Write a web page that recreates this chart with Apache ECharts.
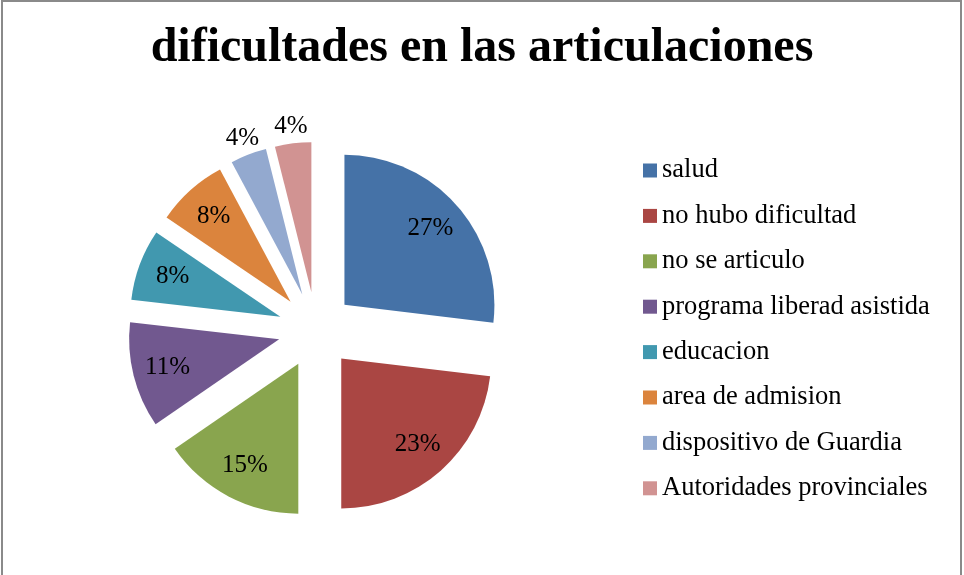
<!DOCTYPE html>
<html>
<head>
<meta charset="utf-8">
<script src="https://cdn.jsdelivr.net/npm/echarts@6/dist/echarts.min.js"></script>
<style>
  body { margin: 0; background: #fff; }
  #pieChart { width: 964px; height: 575px; }
</style>
</head>
<body>
<div id="pieChart"></div>
<script>
// categorias y porcentajes
var categories = ['salud', 'no hubo dificultad', 'no se articulo', 'programa liberad asistida',
    'educacion', 'area de admision', 'dispositivo de Guardia', 'Autoridades provinciales'];
var values = [26.9, 23.1, 15.4, 11.4, 7.7, 7.7, 3.9, 3.9];
var colors = ['#4572A7', '#AA4643', '#89A54E', '#71588F', '#4198AF', '#DB843D', '#93A9CF', '#D19392'];

var chartDom = document.getElementById('pieChart');
var myChart = echarts.init(chartDom);

var fontFam = '"Liberation Serif", "Times New Roman", serif';
var pieCenter = [316, 330];
var explode = 38;

function pctLabel(p) {
    return Math.round(p.percent) + '%';
}

var labelStyle = {
    formatter: pctLabel,
    color: '#000',
    fontFamily: fontFam,
    fontSize: 25
};

// porciones
var sliceData = categories.map(function (name, i) {
    return { name: name, value: values[i], selected: true };
});
// etiquetas internas (porciones grandes)
var innerLabelData = categories.map(function (name, i) {
    return { name: name, value: values[i], selected: true, label: { show: values[i] >= 5 } };
});
// etiquetas externas (porciones chicas)
var outerLabelData = categories.map(function (name, i) {
    return { name: name, value: values[i], selected: true, label: { show: values[i] < 5 } };
});

// serie transparente solo para posicionar etiquetas
function labelSeries(name, radius, data) {
    return {
        name: name,
        type: 'pie',
        center: pieCenter,
        radius: [0, radius],
        startAngle: 90,
        silent: true,
        selectedMode: 'multiple',
        selectedOffset: explode,
        itemStyle: { color: 'rgba(0,0,0,0)' },
        label: Object.assign({ position: 'inside' }, labelStyle),
        labelLine: { show: false },
        emphasis: { disabled: true },
        data: data
    };
}

var option = {
    color: colors,
    animation: false,
    title: {
        text: 'dificultades en las articulaciones',
        left: 'center',
        top: 20,
        textStyle: {
            color: '#000',
            fontWeight: 'bold',
            fontFamily: fontFam,
            fontSize: 48
        }
    },
    legend: {
        orient: 'vertical',
        left: 643,
        top: 157,
        padding: 0,
        itemWidth: 14,
        itemHeight: 14,
        itemGap: 18.4,
        icon: 'rect',
        data: categories,
        textStyle: {
            color: '#000',
            fontFamily: fontFam,
            fontSize: 26.5,
            lineHeight: 26.5
        }
    },
    graphic: [{
        type: 'rect',
        shape: { x: 2, y: 1, width: 959, height: 620 },
        style: { fill: 'none', stroke: '#8a8a8a', lineWidth: 2 },
        silent: true
    }],
    series: [
        {
            name: 'articulaciones',
            type: 'pie',
            center: pieCenter,
            radius: [0, 150],
            startAngle: 90,
            selectedMode: 'multiple',
            selectedOffset: explode,
            label: { show: false },
            labelLine: { show: false },
            emphasis: { disabled: true },
            data: sliceData
        },
        labelSeries('etiquetas', 224, innerLabelData),
        labelSeries('etiquetas ext', 328, outerLabelData)
    ]
};
myChart.setOption(option);
</script>
</body>
</html>
